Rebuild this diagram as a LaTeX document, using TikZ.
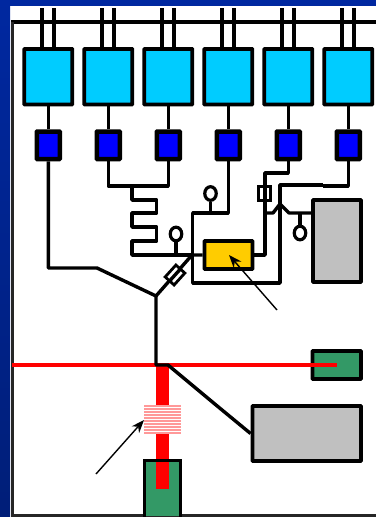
\documentclass[tikz,border=0pt]{standalone}
\usetikzlibrary{arrows.meta,shapes.geometric}
\definecolor{bluedark}{RGB}{0,30,120}
\definecolor{bluetop}{RGB}{0,40,160}
\definecolor{cyanbox}{RGB}{0,204,255}
\definecolor{goldbox}{RGB}{255,204,0}
\definecolor{greenbox}{RGB}{51,153,102}
\definecolor{greybox}{RGB}{192,192,192}
\definecolor{stripepink}{RGB}{255,153,153}
\tikzset{
	wire/.style={draw=black, line width=3.4pt, line join=round},
	box/.style={draw=black, line width=3.8pt, inner sep=0pt, rounded corners=0.5pt},
	pointer/.style={draw=black, line width=1.4pt, -{Stealth[length=13pt,width=10pt]}},
	ring/.style={ellipse, draw=black, line width=3.2pt, fill=white, inner sep=0pt, minimum width=11.5pt, minimum height=13.6pt}
}
\begin{document}
\begin{tikzpicture}[x=1pt, y=-1pt]
	\useasboundingbox (0,0) rectangle (376,517);
	% Blue slide background
	\shade[top color=bluetop, bottom color=bluedark] (0,0) rectangle (10,517);
	\fill[bluetop] (0,0) rectangle (376,6);
	
	% Outer frame
	\draw[line width=3.6pt] (11,22) -- (376,22);
	\draw[black!85, line width=2.8pt] (12.5,22) -- (12.5,515.5) -- (376,515.5);
	
	% Top row of six channels
	\foreach \i/\x in {1/48.3, 2/108.3, 3/168.3, 4/228.3, 5/288.3, 6/348.3} {
		\node[box, fill=cyanbox, minimum width=48pt, minimum height=55.5pt] (amp\i) at (\x,76.7) {};
		\node[box, fill=blue, line width=4.4pt, minimum width=23pt, minimum height=27.5pt] (mod\i) at (\x,145.3) {};
		\coordinate (in\i) at (\x,8);
		% Double feed lines
		\draw[line width=4pt] ([xshift=-6pt]in\i) -- ([xshift=-6pt]in\i |- amp\i.north);
		\draw[line width=4pt] ([xshift=6pt]in\i) -- ([xshift=6pt]in\i |- amp\i.north);
		\draw[wire] (amp\i) -- (mod\i);
	}
	
	% Boxes of the lower half
	\node[box, fill=goldbox, minimum width=48pt, minimum height=28pt] (gold) at (228.5,255) {};
	\node[box, fill=greybox, minimum width=48pt, minimum height=82pt] (greyA) at (337,241) {};
	\node[box, fill=greybox, minimum width=108.5pt, minimum height=55pt] (greyB) at (306.7,433.5) {};
	
	% Red beams and the source boxes
	\node[box, fill=greenbox, minimum width=48.5pt, minimum height=28pt] (srcA) at (336.7,365) {};
	\fill[greenbox] (144.5,460.5) rectangle (180.5,516);
	\draw[red, line width=4pt] (12,365) -- (srcA.center);
	\fill[red] (156,365) rectangle (169,489);
	\draw[line width=3.6pt] (144.5,517) -- (144.5,460.5) -- (180.5,460.5) -- (180.5,517);
	\fill[red] (156,462.3) rectangle (169,489);
	\coordinate (joint) at (156,296);
	
	% Striped element on the thick beam
	\fill[white] (144,405) rectangle (181,434);
	\foreach \k in {0,...,9} {
		\fill[stripepink] (144,405+3*\k) rectangle (181,407+3*\k);
	}
	
	% Left channel down to the joint
	\draw[wire] (mod1) -- (48.3,268) -- (97,268) -- (joint);
	\draw[wire] (joint) -- (156,365) -- (168,365) -- (216,405) -- (greyB.west);
	
	% Channels 2 and 3 with the meander
	\draw[wire] (mod2) -- (108.3,186) -- (168.3,186) -- (mod3);
	\draw[wire] (132,186) -- (132,200) -- (156.7,200) -- (156.7,213) -- (132,213) -- (132,227) -- (156.7,227) -- (156.7,241) -- (132,241) -- (132,255) -- (192,255);
	\node[ring] (ringA) at (176,234) {};
	\draw[wire] (ringA) -- (176,255);
	
	% Diagonal with the small diamond
	\draw[wire] (joint) -- (192,255) -- (gold.west);
	\node[draw=black, line width=2.8pt, fill=white, rotate=48, minimum width=16pt, minimum height=12pt, inner sep=0pt] (fuse) at (175,275) {};
	\draw[wire] (fuse.west) -- (fuse.east);
	
	% Channel 4 loop round the gold box
	\draw[wire] (mod4) -- (228.3,213) -- (192.7,213) -- (192.7,283) -- (280,283) -- (280,185) -- (323,185);
	\node[ring] (ringB) at (210.5,193.5) {};
	\draw[wire] (ringB) -- (210.5,213);
	
	% Channels 5 and 6 towards the upper grey box
	\draw[wire] (gold.east) -- (265,255) -- (265,173) -- (288.3,173) -- (mod5);
	\draw[wire] (mod6) -- (348.3,186) -- (323,186);
	\coordinate (tee) at (289,213);
	\draw[wire] (265,213) -- (273,213) -- (280,204) -- (tee) -- (tee -| greyA.west);
	\node[draw=black, line width=2.8pt, minimum width=12.5pt, minimum height=14pt, inner sep=0pt] (tap) at (264.5,193.5) {};
	\node[ring] (ringC) at (300,233) {};
	\draw[wire] (ringC) -- (300,213);
	
	% Pointers
	\coordinate (tipA) at (229,255);
	\coordinate (tipB) at (144,420);
	\draw[pointer] (277,310) -- (tipA);
	\draw[pointer] (96,474) -- (tipB);
\end{tikzpicture}
\end{document}
